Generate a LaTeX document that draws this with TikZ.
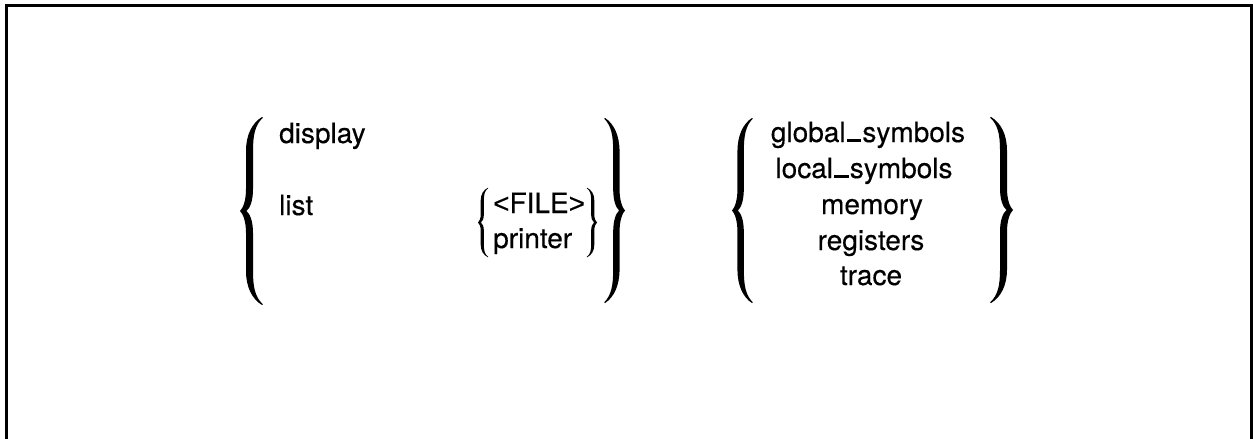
\documentclass[tikz,border=0pt]{standalone}
\usepackage{fontspec}
\setmainfont{TeX Gyre Heros}[FakeBold=0.35]
\newfontfamily\lsans{Liberation Sans}[FakeBold=0.35]
\newcommand\usc{\kern0.04em\rule[0.01em]{0.52em}{0.08em}\kern0.04em}
\tikzset{
  lbrace/.pic={
    \fill (22,-94) .. controls (12,-88) and (6,-76) .. (6,-60)
      -- (6,-22) .. controls (6,-10) and (3,-3) .. (0,0)
      .. controls (3,3) and (6,10) .. (6,22)
      -- (6,60) .. controls (6,76) and (12,88) .. (22,94)
      -- (22.8,93.2) .. controls (15,86) and (13,76) .. (13,60)
      -- (13,22) .. controls (13,10) and (10,3) .. (6.5,0)
      .. controls (10,-3) and (13,-10) .. (13,-22)
      -- (13,-60) .. controls (13,-76) and (15,-86) .. (22.8,-93.2)
      -- cycle;
  },
  txt/.style={inner sep=0pt, font=\fontsize{28}{33}\selectfont},
  frame/.style={line width=3pt}
}
\begin{document}
\begin{tikzpicture}[x=1pt,y=-1pt]
\useasboundingbox (0,0) rectangle (1253,439);
% frame (bottom edge outside the picture)
\draw[frame] (6.5,445) -- (6.5,5.5) -- (1251.5,5.5) -- (1251.5,445);

% left group braces
\pic at (240,211) {lbrace};
\pic[xscale=-0.91,yscale=0.985] at (625,210.5) {lbrace};
% small braces
\pic[xscale=0.45,yscale=0.37] at (478,222.5) {lbrace};
\pic[xscale=-0.45,yscale=0.37] at (597,222.5) {lbrace};
% right group braces
\pic[xscale=0.91,yscale=0.985] at (732,210.5) {lbrace};
\pic[xscale=-1.0,yscale=0.99] at (1013,210) {lbrace};

% left group texts
\node[txt,anchor=base west] (display) at (279,143) {display};
\node[txt,anchor=base west] (list) at (279,215) {list};
\node[txt,anchor=base west] (file) at (493,213) {{\lsans<}FILE{\lsans>}};
\node[txt,anchor=base west] (printer) at (493,248) {printer};

% right group texts
\node[txt,anchor=base] (gs) at (868,142) {global\usc symbols};
\node[txt,anchor=base] (ls) at (864,178) {local\usc symbols};
\node[txt,anchor=base] (mem) at (872,214) {memory};
\node[txt,anchor=base] (reg) at (871,250) {registers};
\node[txt,anchor=base] (trace) at (871,285) {trace};
\end{tikzpicture}
\end{document}
